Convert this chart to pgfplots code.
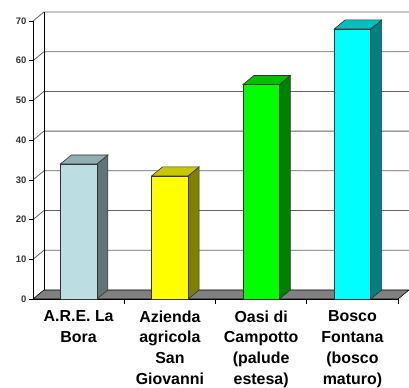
\documentclass[border=0pt]{standalone}
\usepackage{fontspec}
\setmainfont{Liberation Sans}
\usepackage{pgfplots}
\pgfplotsset{compat=1.18}
\usetikzlibrary{calc}
\definecolor{f1}{RGB}{188,222,226}\definecolor{s1}{RGB}{96,115,117}\definecolor{t1}{RGB}{144,173,176}
\definecolor{f2}{RGB}{255,255,0}\definecolor{s2}{RGB}{128,128,0}\definecolor{t2}{RGB}{200,200,0}
\definecolor{f3}{RGB}{0,255,0}\definecolor{s3}{RGB}{0,128,0}\definecolor{t3}{RGB}{0,192,0}
\definecolor{f4}{RGB}{0,255,255}\definecolor{s4}{RGB}{0,128,128}\definecolor{t4}{RGB}{0,192,192}
\definecolor{gridc}{RGB}{100,100,100}
\definecolor{floorc}{RGB}{128,128,128}
\begin{document}
\begin{tikzpicture}
\begin{axis}[
  scale only axis, width=376bp, height=287bp,
  xmin=-0.5, xmax=3.62, ymin=0, ymax=72.27,
  axis lines*=left, axis line style={draw=none},
  clip=false,
  xtick={0,1,2,3},
  xticklabels={{A.R.E. La\\Bora},{Azienda\\agricola\\San\\Giovanni},{Oasi di\\Campotto\\(palude\\estesa)},{Bosco\\Fontana\\(bosco\\maturo)}},
  xticklabel style={align=center, font=\fontsize{16}{21}\selectfont\bfseries, anchor=north, yshift=-4bp},
  xtick style={draw=none},
  ytick={0,10,...,70},
  ytick style={draw=black, line width=0.6pt},
  tick align=outside, major tick length=4bp,
  yticklabel style={font=\fontsize{9.5}{11}\selectfont\bfseries, text=black!80, xshift=1bp},
  /pgf/number format/assume math mode=true,
]
% floor
\addplot[fill=floorc, draw=black, line width=0.6pt] coordinates {(-0.5,0) (3.5,0) (3.62,2.27) (-0.38,2.27)} -- cycle;
% gridlines (side wall + back wall)
\addplot[gridc, line width=0.8pt] coordinates {(-0.5,10) (-0.38,12.27) (3.62,12.27)};
\addplot[gridc, line width=0.8pt] coordinates {(-0.5,20) (-0.38,22.27) (3.62,22.27)};
\addplot[gridc, line width=0.8pt] coordinates {(-0.5,30) (-0.38,32.27) (3.62,32.27)};
\addplot[gridc, line width=0.8pt] coordinates {(-0.5,40) (-0.38,42.27) (3.62,42.27)};
\addplot[gridc, line width=0.8pt] coordinates {(-0.5,50) (-0.38,52.27) (3.62,52.27)};
\addplot[gridc, line width=0.8pt] coordinates {(-0.5,60) (-0.38,62.27) (3.62,62.27)};
\addplot[gridc, line width=0.8pt] coordinates {(-0.5,70) (-0.38,72.27) (3.62,72.27)};
% back wall left edge and front axes
\addplot[black, line width=0.6pt] coordinates {(-0.38,2.27) (-0.38,72.27)};
\addplot[black, line width=0.6pt] coordinates {(-0.5,0) (-0.5,70)};
\addplot[black, line width=0.6pt] coordinates {(-0.5,0) (3.5,0)};
% x boundary ticks
\addplot[black, line width=0.6pt] coordinates {(0.5,0) (0.5,-1.26)};
\addplot[black, line width=0.6pt] coordinates {(1.5,0) (1.5,-1.26)};
\addplot[black, line width=0.6pt] coordinates {(2.5,0) (2.5,-1.26)};
\addplot[black, line width=0.6pt] coordinates {(3.5,0) (3.5,-1.26)};
% bar 1 (34)
\addplot[fill=s1, draw=black!80, line width=0.6pt] coordinates {(0.2,0) (0.32,2.27) (0.32,36.27) (0.2,34)} -- cycle;
\addplot[fill=t1, draw=black!80, line width=0.6pt] coordinates {(-0.2,34) (0.2,34) (0.32,36.27) (-0.08,36.27)} -- cycle;
\addplot[ybar, bar shift=0pt, bar width=0.4, fill=f1, draw=black!80, line width=0.6pt] coordinates {(0,34)};
% bar 2 (31)
\addplot[fill=s2, draw=black!80, line width=0.6pt] coordinates {(1.2,0) (1.32,2.27) (1.32,33.27) (1.2,31)} -- cycle;
\addplot[fill=t2, draw=black!80, line width=0.6pt] coordinates {(0.8,31) (1.2,31) (1.32,33.27) (0.92,33.27)} -- cycle;
\addplot[ybar, bar shift=0pt, bar width=0.4, fill=f2, draw=black!80, line width=0.6pt] coordinates {(1,31)};
% bar 3 (54)
\addplot[fill=s3, draw=black!80, line width=0.6pt] coordinates {(2.2,0) (2.32,2.27) (2.32,56.27) (2.2,54)} -- cycle;
\addplot[fill=t3, draw=black!80, line width=0.6pt] coordinates {(1.8,54) (2.2,54) (2.32,56.27) (1.92,56.27)} -- cycle;
\addplot[ybar, bar shift=0pt, bar width=0.4, fill=f3, draw=black!80, line width=0.6pt] coordinates {(2,54)};
% bar 4 (68)
\addplot[fill=s4, draw=black!80, line width=0.6pt] coordinates {(3.2,0) (3.32,2.27) (3.32,70.27) (3.2,68)} -- cycle;
\addplot[fill=t4, draw=black!80, line width=0.6pt] coordinates {(2.8,68) (3.2,68) (3.32,70.27) (2.92,70.27)} -- cycle;
\addplot[ybar, bar shift=0pt, bar width=0.4, fill=f4, draw=black!80, line width=0.6pt] coordinates {(3,68)};
\coordinate (bl) at (rel axis cs:0,0);
\coordinate (tr) at (rel axis cs:1,1);
\end{axis}
\pgfresetboundingbox
\path ($(bl)+(-33bp,-89bp)$) rectangle ($(tr)+(0,12bp)$);
\end{tikzpicture}
\end{document}
